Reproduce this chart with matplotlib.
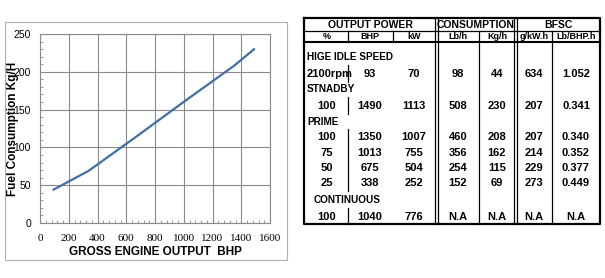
import matplotlib
matplotlib.use("Agg")
import matplotlib.pyplot as plt
from matplotlib.ticker import MultipleLocator

# ---- data ----
bhp = [93, 338, 675, 1013, 1350, 1490]
fuel_kgh = [44, 69, 115, 162, 208, 230]

header1 = ["OUTPUT POWER", "CONSUMPTION", "BFSC"]
header2 = ["%", "BHP", "kW", "Lb/h", "Kg/h", "g/kW.h", "Lb/BHP.h"]
idle_row = ["2100rpm", "93", "70", "98", "44", "634", "1.052"]
standby_row = ["100", "1490", "1113", "508", "230", "207", "0.341"]
prime_rows = [
    ["100", "1350", "1007", "460", "208", "207", "0.340"],
    ["75", "1013", "755", "356", "162", "214", "0.352"],
    ["50", "675", "504", "254", "115", "229", "0.377"],
    ["25", "338", "252", "152", "69", "273", "0.449"],
]
cont_row = ["100", "1040", "776", "N.A", "N.A", "N.A", "N.A"]

NARROW = ["Liberation Sans Narrow", "Liberation Sans", "DejaVu Sans"]
W, H = 605, 278

fig = plt.figure(figsize=(W / 100, H / 100), dpi=100)
fig.patch.set_facecolor("white")

# ---- chart ----
ax = fig.add_axes([40 / W, 1 - 223 / H, 230 / W, 189 / H])
ax.plot(bhp, fuel_kgh, color="#3f6fa3", lw=1.6, solid_capstyle="round",
        solid_joinstyle="round")
ax.set_xlim(0, 1600)
ax.set_ylim(0, 250)
ax.xaxis.set_major_locator(MultipleLocator(200))
ax.yaxis.set_major_locator(MultipleLocator(50))
ax.xaxis.set_minor_locator(MultipleLocator(40))
ax.yaxis.set_minor_locator(MultipleLocator(10))
ax.grid(True, which="major", color="#8a8a8a", lw=0.8)
for s in ax.spines.values():
    s.set_color("#8a8a8a")
    s.set_linewidth(0.8)
ax.tick_params(which="major", length=0, colors="black")
ax.tick_params(which="minor", length=2, direction="in", color="#8a8a8a")
ax.tick_params(axis="x", pad=8)
ax.tick_params(axis="y", pad=6.5)
for lb in ax.get_xticklabels():
    lb.set_family("Liberation Serif")
    lb.set_fontsize(8)
for lb in ax.get_yticklabels():
    lb.set_family(NARROW)
    lb.set_fontsize(7.5)

fig.text(155 / W, 1 - 252 / H, "GROSS ENGINE OUTPUT  BHP", ha="center", va="center",
         family=NARROW, fontsize=8.5, fontweight="bold")
fig.text(13 / W, 1 - 129 / H, "Fuel Consumption Kg/H", ha="center", va="center",
         rotation=90, family=NARROW, fontsize=8.5, fontweight="bold")

# ---- overlay in pixel coordinates ----
ov = fig.add_axes([0, 0, 1, 1], zorder=5)
ov.set_xlim(0, W)
ov.set_ylim(H, 0)
ov.axis("off")
ov.patch.set_alpha(0)

# outer chart frame
ov.plot([5, 287, 287, 5, 5], [22, 22, 260, 260, 22], color="#b0b0b0", lw=0.8)

# table lines
L, R, T, B = 304, 600, 18, 224
k = "black"
ov.plot([L, R, R, L, L], [T, T, B, B, T], color=k, lw=1.6)
ov.plot([L, R], [31, 31], color=k, lw=0.9)
ov.plot([L, R], [42, 42], color=k, lw=1.5)
for x in (435, 437.5, 514, 516.5):
    ov.plot([x, x], [T, B], color=k, lw=0.9)
for x in (479, 552):
    ov.plot([x, x], [31, B], color=k, lw=0.9)
for x in (348, 393):
    ov.plot([x, x], [31, 42], color=k, lw=0.9)
for y0, y1 in [(65, 82), (97, 114), (129, 191), (208, 224)]:
    ov.plot([348, 348], [y0, y1], color=k, lw=0.9)

cols = [327, 370, 414, 458, 497, 534, 576]
for txt, xc in zip(header1, [370, 476, 558]):
    ov.text(xc, 25, txt, ha="center", va="center", family=NARROW,
            fontsize=7.5, fontweight="bold")
for txt, xc in zip(header2, cols):
    ov.text(xc, 36.5, txt, ha="center", va="center", family=NARROW,
            fontsize=6.5, fontweight="bold")


def row(vals, y):
    for txt, xc in zip(vals, cols):
        if txt == "2100rpm":
            ov.text(307, y, txt, ha="left", va="center", family=NARROW,
                    fontsize=8, fontweight="bold")
        else:
            ov.text(xc, y, txt, ha="center", va="center", family=NARROW,
                    fontsize=8, fontweight="bold")


def label(txt, y, x=307):
    ov.text(x, y, txt, ha="left", va="center", family=NARROW,
            fontsize=7.2, fontweight="bold")


label("HIGE IDLE SPEED", 57)
row(idle_row, 74)
label("STNADBY", 89)
row(standby_row, 106)
label("PRIME", 122)
for r, y in zip(prime_rows, [137, 153, 168, 183]):
    row(r, y)
label("CONTINUOUS", 200, x=314)
row(cont_row, 217)

fig.savefig("out.png", dpi=100)
